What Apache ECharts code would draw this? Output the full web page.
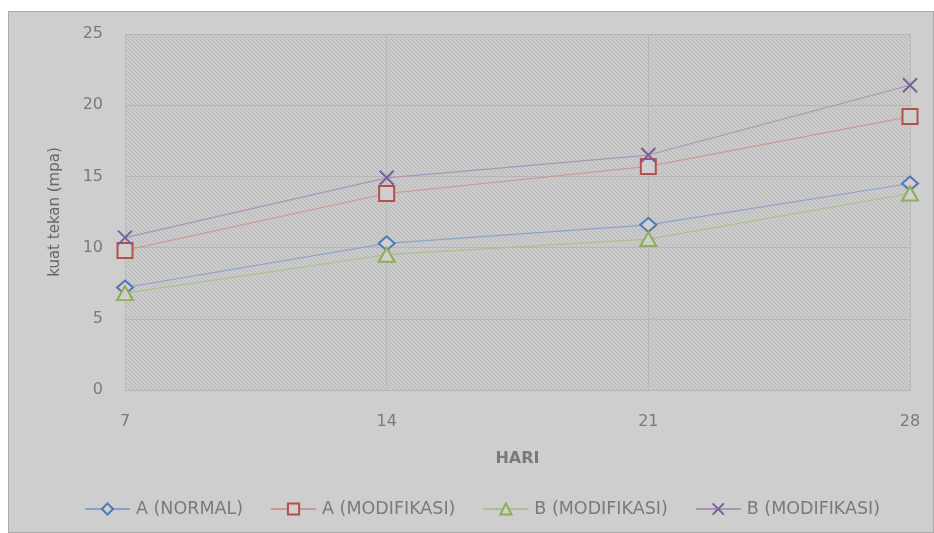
<!DOCTYPE html>
<html>
<head>
<meta charset="utf-8">
<script src="https://cdn.jsdelivr.net/npm/echarts@6/dist/echarts.min.js"></script>
<style>
html,body{margin:0;padding:0;background:#ffffff;}
#frame{position:absolute;left:8px;top:11px;width:924px;height:520px;background:#cecece;border:1px solid #a9a9a9;}
#chart{position:absolute;left:0;top:0;width:934px;height:533px;}
</style>
</head>
<body>
<div id="frame"></div>
<div id="chart"></div>
<script>
const categories = ['7', '14', '21', '28'];
const aNormal = [7.2, 10.3, 11.6, 14.5];
const aModifikasi = [9.8, 13.8, 15.7, 19.2];
const bModifikasi = [6.8, 9.5, 10.6, 13.8];
const bModifikasi2 = [10.7, 14.9, 16.5, 21.4];
const seriesNames = ['A (NORMAL)', 'A (MODIFIKASI)', 'B (MODIFIKASI)', 'B (MODIFIKASI) '];
const yTicks = { min: 0, max: 25, interval: 5 };

const tile = document.createElement('canvas');
tile.width = 4; tile.height = 4;
const tctx = tile.getContext('2d');
tctx.fillStyle = '#cbcbcb';
tctx.fillRect(0, 0, 4, 4);
tctx.fillStyle = '#b7b7b7';
for (let i = 0; i < 4; i++) tctx.fillRect(i, i, 1, 1);

const chart = echarts.init(document.getElementById('chart'), null, { renderer: 'canvas' });
const textColor = '#7a7a7a';
const fontFam = '"DejaVu Sans", sans-serif';

function mk(name, data, symbol, size, color, lineColor) {
  return {
    name: name, type: 'line', data: data,
    symbol: symbol, symbolSize: size,
    lineStyle: { color: lineColor, width: 1.2 },
    itemStyle: { color: '#cfcfcf', borderColor: color, borderWidth: 2 },
    emphasis: { disabled: true },
    z: 3
  };
}

chart.setOption({
  backgroundColor: 'transparent',
  animation: false,
  grid: {
    left: 125, right: 24, top: 34, bottom: 143,
    show: true, borderWidth: 0,
    backgroundColor: { image: tile, repeat: 'repeat' }
  },
  legend: {
    bottom: 15, left: 84, padding: 0,
    itemWidth: 45, itemHeight: 14, itemGap: 27,
    textStyle: { color: textColor, fontSize: 17.5, fontFamily: fontFam, padding: [0, 0, 0, 1] },
    data: seriesNames
  },
  xAxis: {
    type: 'category', data: categories, boundaryGap: false,
    name: 'HARI', nameLocation: 'middle', nameGap: 61,
    nameTextStyle: { color: textColor, fontSize: 16, fontWeight: 'bold', fontFamily: fontFam },
    axisLine: { show: false }, axisTick: { show: false },
    axisLabel: { color: textColor, fontSize: 16, margin: 24, fontFamily: fontFam },
    splitLine: { show: true, lineStyle: { color: '#b9b9b9', width: 1 } }
  },
  yAxis: {
    type: 'value', min: yTicks.min, max: yTicks.max, interval: yTicks.interval,
    name: 'kuat tekan (mpa)', nameLocation: 'middle', nameGap: 62, nameRotate: 90,
    nameTextStyle: { color: '#666666', fontSize: 15, fontFamily: fontFam },
    axisLine: { show: false }, axisTick: { show: false },
    axisLabel: { color: textColor, fontSize: 16, margin: 22, fontFamily: fontFam },
    splitLine: { show: true, lineStyle: { color: '#b5b5b5', width: 1 } }
  },
  series: [
    mk(seriesNames[0], aNormal, 'diamond', [16, 14], '#4f79b5', '#8ca3c9'),
    mk(seriesNames[1], aModifikasi, 'rect', 15, '#b5504d', '#cf9795'),
    mk(seriesNames[2], bModifikasi, 'triangle', [16, 14], '#8fae55', '#adbf8b'),
    mk(seriesNames[3], bModifikasi2, 'path://M0,0L10,10M10,0L0,10', 14, '#7a5f9c', '#a597b8')
  ]
});
</script>
</body>
</html>
